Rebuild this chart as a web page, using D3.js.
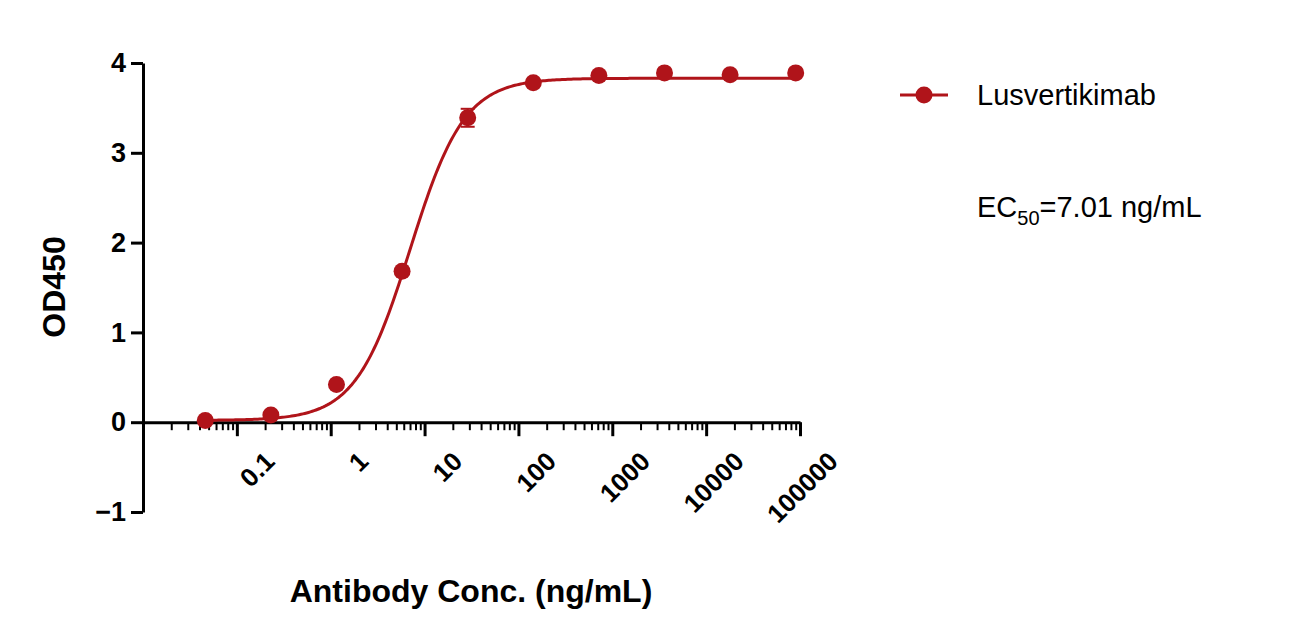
<!DOCTYPE html>
<html><head><meta charset="utf-8">
<script src="https://cdn.jsdelivr.net/npm/d3@7"></script>
<style>body{margin:0;background:#fff}text{font-family:"Liberation Sans",Arial,sans-serif}</style>
</head><body><div id="chart"></div>
<script>
// measured points (5-fold dilution)
const conc = [0.04608, 0.2304, 1.152, 5.76, 28.8, 144, 720, 3600, 18000, 90000];
const od = [0.02, 0.08, 0.42, 1.68, 3.39, 3.78, 3.86, 3.89, 3.87, 3.89];
const err = [0, 0, 0, 0, 0.1, 0, 0, 0, 0, 0];
// 4PL fit parameters
const fit = { bottom: 0.02, top: 3.83, ec50: 7.01, hill: 1.5 };
const xTicks = [0.1, 1, 10, 100, 1000, 10000, 100000];
const yTicks = [-1, 0, 1, 2, 3, 4];
const color = "#b0141a";

const W = 1291, H = 642;
const svg = d3.select("#chart").append("svg").attr("width", W).attr("height", H);

const x = d3.scaleLog().domain([0.01, 100000]).range([143, 800]);
const y = d3.scaleLinear().domain([-1, 4]).range([512, 63]);

// y axis
const yAxis = svg.append("g").attr("transform", "translate(143,0)")
    .call(d3.axisLeft(y).tickValues(yTicks).tickSize(12).tickSizeOuter(0).tickFormat(d3.format("d")));
yAxis.select(".domain").attr("stroke-width", 3);
yAxis.selectAll(".tick line").attr("stroke-width", 3);
yAxis.selectAll("text").style("font-size", "27px").attr("font-weight", "bold").attr("dx", -2);

// x axis at y=0
const minor = [];
for (let e = -2; e < 5; e++) for (let m = 2; m < 10; m++) minor.push(m * Math.pow(10, e));
const xg = svg.append("g").attr("transform", "translate(0," + y(0) + ")");
xg.call(d3.axisBottom(x).tickValues(minor).tickSize(8).tickSizeOuter(0).tickFormat(""));
xg.selectAll(".tick line").attr("stroke-width", 2);
xg.select(".domain").remove();
const xMaj = svg.append("g").attr("transform", "translate(0," + y(0) + ")")
    .call(d3.axisBottom(x).tickValues([0.01].concat(xTicks)).tickSize(14).tickSizeOuter(0).tickFormat(d => d === 0.01 ? "" : String(d)));
xMaj.select(".domain").attr("stroke-width", 3);
xMaj.selectAll(".tick line").attr("stroke-width", 3);
xMaj.selectAll("text").style("font-size", "26px").attr("font-weight", "bold")
    .attr("text-anchor", "end").attr("transform", "translate(14,16) rotate(-45)").attr("dy", "0.7em");

// fit curve
const curveX = d3.range(Math.log10(conc[0]), Math.log10(conc[conc.length - 1]) + 0.001, 0.02).map(l => Math.pow(10, l));
const f = c => fit.bottom + (fit.top - fit.bottom) / (1 + Math.pow(fit.ec50 / c, fit.hill));
svg.append("path").datum(curveX)
    .attr("d", d3.line().x(d => x(d)).y(d => y(f(d))))
    .attr("fill", "none").attr("stroke", color).attr("stroke-width", 3);

// error bars
conc.forEach((c, i) => {
    if (!err[i]) return;
    const g = svg.append("g").attr("stroke", color).attr("stroke-width", 2);
    g.append("line").attr("x1", x(c)).attr("x2", x(c)).attr("y1", y(od[i] - err[i])).attr("y2", y(od[i] + err[i]));
    [od[i] - err[i], od[i] + err[i]].forEach(v => g.append("line").attr("x1", x(c) - 7).attr("x2", x(c) + 7).attr("y1", y(v)).attr("y2", y(v)));
});
svg.selectAll("circle.pt").data(conc).enter().append("circle")
    .attr("cx", d => x(d)).attr("cy", (d, i) => y(od[i])).attr("r", 8.5).attr("fill", color);

// axis titles
svg.append("text").attr("x", 471).attr("y", 602).attr("text-anchor", "middle")
    .style("font-size", "32px").attr("font-weight", "bold").text("Antibody Conc. (ng/mL)");
svg.append("text").attr("transform", "translate(65,287) rotate(-90)").attr("text-anchor", "middle")
    .style("font-size", "32px").attr("font-weight", "bold").text("OD450");

// legend
svg.append("line").attr("x1", 900).attr("x2", 948).attr("y1", 95).attr("y2", 95).attr("stroke", color).attr("stroke-width", 3);
svg.append("circle").attr("cx", 924).attr("cy", 95).attr("r", 8.5).attr("fill", color);
svg.append("text").attr("x", 977).attr("y", 105).style("font-size", "29px").text("Lusvertikimab");
const ec = svg.append("text").attr("x", 977).attr("y", 217).style("font-size", "29px");
ec.append("tspan").text("EC");
ec.append("tspan").style("font-size", "20px").attr("dy", 8).text("50");
ec.append("tspan").attr("dy", -8).text("=7.01 ng/mL");
</script></body></html>
